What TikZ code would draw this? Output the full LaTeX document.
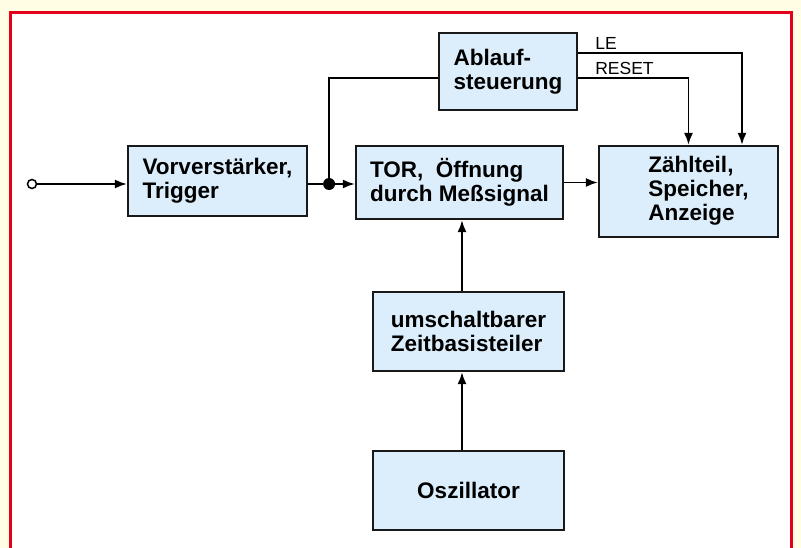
\documentclass[tikz,border=0pt]{standalone}
\usepackage{fontspec}
\setmainfont{Liberation Sans}
\usepackage{xcolor}
\usepackage{tikz}
\usetikzlibrary{arrows.meta, positioning}
\definecolor{boxblue}{HTML}{DCEEFB}
\definecolor{paper}{HTML}{FFFDE3}
\definecolor{framered}{HTML}{E2001A}
\tikzstyle{block} = [rectangle, draw=black!90, line width=2.2pt, fill=boxblue, align=left, inner sep=0pt, font=\fontsize{22.5}{24}\selectfont\bfseries]
\tikzstyle{line} = [draw, line width=1.9pt, -{Latex[length=12pt,width=9pt]}]
\tikzstyle{wire} = [draw, line width=1.9pt]
\tikzstyle{sig} = [inner sep=0pt, font=\fontsize{17.5}{19}\selectfont]
\tikzstyle{junction} = [circle, fill=black, inner sep=0pt, minimum size=12pt]
\tikzstyle{terminal} = [circle, draw=black, line width=1.5pt, fill=white, inner sep=0pt, minimum size=9pt]

\begin{document}
\begin{tikzpicture}[x=1pt, y=1pt]
    % Background
    \useasboundingbox (0,0) rectangle (801,-548);
    \fill [paper] (0,0) rectangle (801,-548);
    \draw [framered, line width=3pt, fill=white] (10.5,-13) rectangle (791,-570);

    % Nodes
    \node [block, minimum width=179pt, minimum height=70pt] (vor) at (217.5,-181) {Vorverst\"arker,\\Trigger};
    \node [block, right of=vor, node distance=242pt, yshift=-1.5pt, minimum width=207pt, minimum height=73pt] (tor) {TOR,\ \ \"Offnung\\durch Me\ss signal};
    \node [block, above of=tor, node distance=111pt, xshift=48.5pt, minimum width=138pt, minimum height=77pt] (abl) {Ablauf-\\steuerung};
    \node [block, right of=tor, node distance=229pt, yshift=-9pt, minimum width=179pt, minimum height=91pt] (zahl) {\hspace*{20pt}\begin{tabular}{@{}l@{}}Z\"ahlteil,\\Speicher,\\Anzeige\end{tabular}};
    \node [block, below of=tor, node distance=149pt, xshift=9pt, minimum width=191pt, minimum height=79pt] (zeit) {umschaltbarer\\Zeitbasisteiler};
    \node [block, below of=zeit, node distance=159pt, minimum width=191pt, minimum height=79pt] (osz) {Oszillator};
    \node [terminal] (in) at (32,-184) {};
    \node [junction] (dot) at ([xshift=21pt, yshift=-3pt]vor.east) {};
    \node [sig, anchor=base west] (le) at ([xshift=17pt, yshift=21.5pt]abl.east) {LE};
    \node [sig, anchor=base west] (reset) at ([xshift=17pt, yshift=-3.5pt]abl.east) {RESET};

    % Edges
    \path [line] (in) -- (in -| vor.west);
    \path [wire] (vor.east |- dot) -- (dot);
    \path [line] (dot) -- (dot -| tor.west);
    \path [wire] (dot) |- ([yshift=-6.5pt]abl.west);
    \path [line] ([yshift=18.5pt]abl.east) -| ([xshift=53.5pt]zahl.north);
    \path [line] ([yshift=-6.5pt]abl.east) -| (zahl.north);
    \path [line] (tor.east) -- (tor.east -| zahl.west);
    \path [line] ([xshift=-6.5pt]zeit.north) -- ([xshift=-6.5pt]zeit.north |- tor.south);
    \path [line] ([xshift=-6.5pt]osz.north) -- ([xshift=-6.5pt]osz.north |- zeit.south);
\end{tikzpicture}
\end{document}
